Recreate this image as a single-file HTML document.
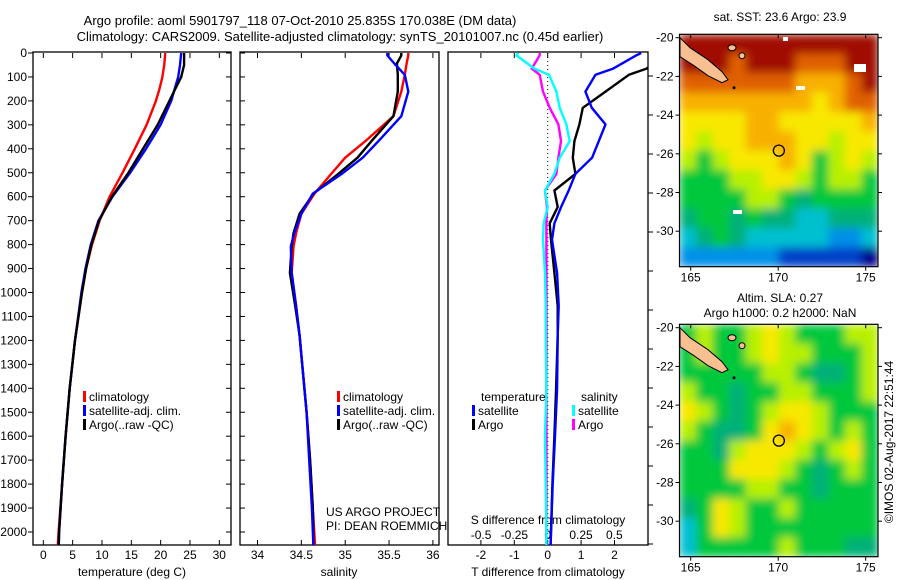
<!DOCTYPE html>
<html><head><meta charset="utf-8">
<style>
html,body{margin:0;padding:0;background:#fff;}
svg{display:block;font-family:"Liberation Sans",sans-serif;}
text{font-size:12px;fill:#000;}
</style></head>
<body>
<svg id="fig" width="900" height="580" viewBox="0 0 900 580" xmlns="http://www.w3.org/2000/svg">
<text x="300" y="25" text-anchor="middle" style="font-size:13px">Argo profile: aoml 5901797_118 07-Oct-2010 25.835S 170.038E (DM data)</text>
<text x="340" y="41" text-anchor="middle" style="font-size:13px">Climatology: CARS2009. Satellite-adjusted climatology: synTS_20101007.nc (0.45d earlier)</text>
<g id="g"></g>
</svg>
<script>
// ---------- data ----------
const depthTicks = [0,100,200,300,400,500,600,700,800,900,1000,1100,1200,1300,1400,1500,1600,1700,1800,1900,2000];
const tempTicks = [0,5,10,15,20,25,30];
const salTicks = [34,34.5,35,35.5,36];
const salTickLabels = ["34","34.5","35","35.5","36"];
const tdTicks = [-2,-1,0,1,2];
const sdTicks = [-0.5,-0.25,0,0.25,0.5];
const sdTickLabels = ["-0.5","-0.25","0","0.25","0.5"];

const tDepth = [0,50,100,150,200,300,400,500,600,700,800,900,1000,1200,1400,1600,1800,2000,2080];
const tClim  = [20.8,20.6,20.3,19.8,19.2,17.6,15.6,13.5,11.3,9.6,8.3,7.3,6.6,5.4,4.5,3.8,3.2,2.6,2.4];
const tSat   = [23.5,23.3,23.0,22.4,21.8,20.0,17.5,14.8,11.8,9.4,8.1,7.2,6.5,5.4,4.5,3.8,3.2,2.7,2.6];
const tArgo  = [24.0,24.0,23.5,22.5,21.5,19.5,17.0,14.5,11.7,9.5,8.2,7.3,6.6,5.4,4.5,3.8,3.2,2.7,2.6];

const sDepth = [0,10,44,91,161,264,368,437,505,587,671,752,808,918,1056,1180,1300,1500,1700,1900,2080];
const sClim  = [35.72,35.72,35.70,35.68,35.64,35.55,35.23,35.00,34.84,34.65,34.50,34.44,34.41,34.39,34.44,34.48,34.51,34.56,34.60,34.63,34.66];
const sSat   = [35.48,35.48,35.56,35.68,35.72,35.64,35.38,35.20,34.96,34.63,34.50,34.42,34.38,34.39,34.44,34.48,34.51,34.56,34.59,34.62,34.64];
const sArgo  = [35.64,35.64,35.59,35.60,35.60,35.55,35.30,35.14,34.92,34.64,34.48,34.41,34.39,34.37,34.43,34.48,34.51,34.56,34.60,34.63,34.64];

const dDepth = [0,10,65,91,161,229,298,368,437,505,574,643,711,780,918,1056,1180,1400,1600,1800,2000,2080];
const dTSat  = [2.8,2.65,1.96,1.43,1.13,1.32,1.73,1.53,1.33,0.83,0.63,0.4,0.2,0.13,0.28,0.33,0.3,0.28,0.22,0.15,0.1,0.08];
const dTArgo = [3.8,3.5,2.96,2.43,1.73,1.05,0.95,0.8,0.75,0.83,0.2,0.3,0.06,0.1,0.2,0.3,0.3,0.25,0.2,0.14,0.1,0.08];
const dSSat  = [-0.22,-0.235,-0.1,0.01,0.065,0.09,0.14,0.165,0.09,0.05,-0.02,0,-0.03,-0.035,-0.02,-0.015,-0.015,-0.01,-0.02,-0.015,-0.01,-0.01];
const dSArgo = [-0.06,-0.06,-0.12,-0.06,-0.035,0.015,0.08,0.1,0.08,0.065,-0.02,-0.005,-0.01,-0.01,-0.01,-0.01,-0.01,-0.01,-0.01,-0.01,-0.01,-0.01];

const lonTicks = [165,170,175];
const latTicks = [-20,-22,-24,-26,-28,-30];
const sstGrid = [
[10,10,10,10,10,10,10,10,10,10,10,10],
[10,10,10,9,10,10,10,9,9,9,10,10],
[9,9,9,9,9,9,9,8,8,8,9,10],
[8,8,8,8,8,8,8,8,7,8,9,9],
[7,7,7,7,8,8,7,7,7,7,7,8],
[7,6,7,7,8,8,8,7,7,6,7,7],
[6,5,6,7,7,7,8,7,5,6,7,6],
[5,5,5,6,6,7,7,6,5,6,6,5],
[5,5,5,5,6,6,5,4,5,5,5,5],
[4,5,5,4,5,4,4,3,3,4,4,4],
[3,4,5,4,3,3,3,3,3,2,2,3],
[2,2,2,2,2,2,1,1,1,1,1,0]];
const slaGrid = [
[5,6,5,5,6,7,6,5,5,5,6,6],
[5,6,5,5,6,7,6,6,5,5,5,6],
[5,5,5,5,5,6,6,5,4,4,5,6],
[6,5,5,4,5,5,6,6,5,5,5,6],
[7,6,5,4,5,6,7,7,6,5,5,5],
[6,5,4,4,5,7,8,7,6,5,6,5],
[5,5,4,6,7,7,7,6,5,6,7,5],
[5,5,5,7,7,7,6,5,4,5,6,5],
[5,5,5,5,6,6,5,5,4,5,5,5],
[4,5,7,6,5,5,6,5,5,5,5,5],
[3,5,7,6,5,5,5,5,5,5,5,5],
[3,5,5,5,5,5,6,5,5,5,4,4]];
const argoLon = 170.038, argoLat = -25.835;

// ---------- helpers ----------
const NS="http://www.w3.org/2000/svg";
const G=document.getElementById('g');
function mk(tag,attrs,parent){const e=document.createElementNS(NS,tag);for(const k in attrs)e.setAttribute(k,attrs[k]);(parent||G).appendChild(e);return e;}
function txt(x,y,s,anchor,parent){const e=mk('text',{x:x,y:y,'text-anchor':anchor||'middle'},parent);e.textContent=s;return e;}

const TOP=53, BOT=545, DS=0.2395;
const yD=d=>TOP+d*DS;
const panels=[{l:33,r:231},{l:240,r:439},{l:448,r:648}];
const xT=v=>43.3+v*5.867;
const xS=v=>257.5+(v-34)*87.7;
const xdT=v=>547.7+v*33.4;
const xdS=v=>547.7+v*133.3;

const defs=mk('defs',{});
panels.forEach((p,i)=>{const c=mk('clipPath',{id:'c'+i},defs);mk('rect',{x:p.l,y:TOP-1,width:p.r-p.l,height:BOT-TOP+1},c);});
const flt=mk('filter',{id:'blur',x:'0',y:'0',width:'1',height:'1'},defs);
mk('feGaussianBlur',{stdDeviation:'4.5',edgeMode:'duplicate'},flt);

panels.forEach((p,i)=>{
  const f=mk('rect',{x:p.l,y:TOP-1,width:p.r-p.l,height:BOT-TOP+1,fill:'none',stroke:'#000','stroke-width':1.3});
  
  
});
depthTicks.forEach(d=>{
  mk('line',{x1:33,x2:28,y1:yD(d),y2:yD(d),stroke:'#000'});
  mk('line',{x1:231,x2:226,y1:yD(d),y2:yD(d),stroke:'#000'});
  mk('line',{x1:240,x2:245,y1:yD(d),y2:yD(d),stroke:'#000'});
  const t=txt(27,yD(d)+4,String(d),'end');
  
  
});
for(let k=0;k<13;k++){const y=76+k*39;mk('line',{x1:648,x2:653,y1:y,y2:y,stroke:'#000'});}

function xticks(vals,labels,fx,ly,top){
  vals.forEach((v,i)=>{
    const x=fx(v);
    mk('line',{x1:x,x2:x,y1:BOT,y2:BOT-5,stroke:'#000'});
    if(top)mk('line',{x1:x,x2:x,y1:TOP,y2:TOP+5,stroke:'#000'});
    const t=txt(x,ly,labels[i]);
    
    
  });
}
xticks(tempTicks,tempTicks.map(String),xT,559,true);
xticks(salTicks,salTickLabels,xS,559,true);
xticks(tdTicks,tdTicks.map(String),xdT,559,true);
sdTicks.forEach((v,i)=>{const t=txt(xdS(v),539,sdTickLabels[i]);});

let t;
t=txt(132,576,'temperature (deg C)');
t=txt(339,576,'salinity');
t=txt(548,576,'T difference from climatology');
t=txt(548,524,'S difference from climatology');
t=txt(326,516,'US ARGO PROJECT','start');
t=txt(326,530,'PI: DEAN ROEMMICH','start');

mk('line',{x1:xdT(0),x2:xdT(0),y1:TOP,y2:BOT,stroke:'#000','stroke-dasharray':'1,3'});

function profile(vals,depths,fx,color,clip,name,w){
  const pts=vals.map((v,i)=>fx(v).toFixed(1)+','+yD(depths[i]).toFixed(1)).join(' ');
  const p=mk('polyline',{points:pts,fill:'none',stroke:color,'stroke-width':w||2.4,'clip-path':'url(#c'+clip+')','stroke-linejoin':'round'});
  
  
}
profile(tClim,tDepth,xT,'#ff0000',0,'temperature-climatology-line');
profile(tSat,tDepth,xT,'#0000ff',0,'temperature-satellite-line');
profile(tArgo,tDepth,xT,'#000000',0,'temperature-argo-line');
profile(sClim,sDepth,xS,'#ff0000',1,'salinity-climatology-line');
profile(sArgo,sDepth,xS,'#000000',1,'salinity-argo-line');
profile(sSat,sDepth,xS,'#0000ff',1,'salinity-satellite-line');
profile(dSArgo,dDepth,xdS,'#ff00ff',2,'s-diff-argo-line');
profile(dSSat,dDepth,xdS,'#00ffff',2,'s-diff-satellite-line');
profile(dTArgo,dDepth,xdT,'#000000',2,'t-diff-argo-line');
profile(dTSat,dDepth,xdT,'#0000ff',2,'t-diff-satellite-line');

function legend(x,y,color,label){
  const r=mk('rect',{x:x,y:y-10,width:3,height:11,fill:color});
  
  
  const tt=txt(x+6,y,label,'start');
  
  
}
[['#ff0000','climatology'],['#0000ff','satellite-adj. clim.'],['#000000','Argo(..raw -QC)']].forEach((e,i)=>{
  legend(83,401+i*14,e[0],e[1]);
  legend(337,401+i*14,e[0],e[1]);
});
t=txt(481,401,'temperature','start');
t=txt(581,401,'salinity','start');
legend(472,415,'#0000ff','satellite');
legend(472,429,'#000000','Argo');
legend(572,415,'#00ffff','satellite');
legend(572,429,'#ff00ff','Argo');

// ---------- maps ----------
const cmap=['#00008c','#0040c8','#0090e8','#00c0d0','#00b078','#00c83c','#b8f000','#f8e800','#f8b000','#e06000','#a00800'];
const ML=679.5, MR=878;
const xLon=lon=>690.7+(lon-165)*17.5;
let mapId=0;
function drawMap(grid,top,bottom,name){
  const yLat=lat=>top+3.4+(-20-lat)*19.35;
  const g=mk('g',{});
  
  
  const cid='mc'+(mapId++);
  const cp=mk('clipPath',{id:cid},defs);
  mk('rect',{x:ML,y:top,width:MR-ML,height:bottom-top},cp);
  const outer=mk('g',{'clip-path':'url(#'+cid+')'},g);
  const cells=mk('g',{filter:'url(#blur)'},outer);
  const rows=grid.length, cols=grid[0].length;
  const cw=(MR-ML)/cols, ch=(bottom-top)/rows;
  grid.forEach((row,r)=>row.forEach((v,c)=>{
    const cell=mk('rect',{x:(ML+c*cw).toFixed(1),y:(top+r*ch).toFixed(1),width:(cw+0.6).toFixed(1),height:(ch+0.6).toFixed(1),fill:cmap[v]},cells);
    
    
  }));
  const oy=top+3.4;
  const land=mk('polygon',{points:[[680,oy+0],[690,oy+10],[708,oy+22],[722,oy+34],[728,oy+42],[722,oy+45],[708,oy+38],[694,oy+28],[680,oy+19]].map(p=>p.join(',')).join(' '),fill:'#f8c090',stroke:'#000','stroke-width':1},g);
  
  
  mk('ellipse',{cx:732,cy:oy+10,rx:4,ry:3,fill:'#f8c090',stroke:'#000'},g);
  mk('ellipse',{cx:742,cy:oy+18,rx:3,ry:3,fill:'#f8c090',stroke:'#000'},g);
  mk('circle',{cx:734,cy:oy+50,r:1.5,fill:'#000'},g);
  mk('rect',{x:ML,y:top,width:MR-ML,height:bottom-top,fill:'none',stroke:'#000','stroke-width':1.2},g);
  lonTicks.forEach(l=>{
    const x=xLon(l);
    mk('line',{x1:x,x2:x,y1:top,y2:top+4,stroke:'#000'},g);
    mk('line',{x1:x,x2:x,y1:bottom,y2:bottom+4,stroke:'#000'},g);
    const tt=txt(x,bottom+15,String(l),'middle',g);
    
    
  });
  latTicks.forEach(l=>{
    const y=yLat(l);
    mk('line',{x1:ML,x2:ML-4,y1:y,y2:y,stroke:'#000'},g);
    mk('line',{x1:MR,x2:MR+4,y1:y,y2:y,stroke:'#000'},g);
    const tt=txt(ML-6,y+4,String(l),'end',g);
    
    
  });
  const mk1=mk('circle',{cx:xLon(argoLon),cy:yLat(argoLat),r:5.5,fill:'none',stroke:'#000','stroke-width':1.3},g);
  
  
}
drawMap(sstGrid,34.3,266.7,'sst-map');
drawMap(slaGrid,324.3,556.7,'sla-map');
[[783,37,5,4],[854,64,12,8],[796,86,9,4],[733,210,9,4]].forEach(r=>{const w=mk('rect',{x:r[0],y:r[1],width:r[2],height:r[3],fill:'#fff'});});

t=txt(780,21,'sat. SST: 23.6  Argo: 23.9');
t=txt(780,302,'Altim. SLA: 0.27');
t=txt(780,317,'Argo h1000: 0.2 h2000: NaN');
t=txt(0,0,'©IMOS 02-Aug-2017 22:51:44');
t.setAttribute('transform','translate(893,442) rotate(-90)');


</script>
</body></html>
